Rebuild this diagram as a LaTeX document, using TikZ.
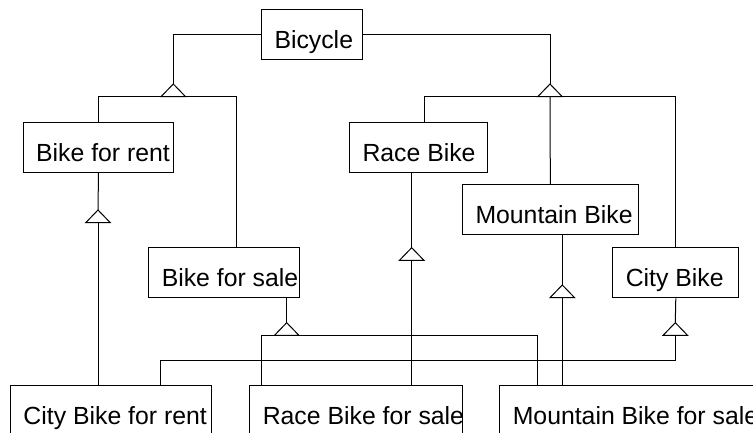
\documentclass[tikz,border=0pt]{standalone}
\usepackage{fontspec}
\setmainfont{Liberation Sans}
\newcommand{\clsname}[2]{\makebox[#1pt][l]{\hspace{13pt}#2}}
\begin{document}
\begin{tikzpicture}[x=1pt,y=-1pt,line width=1pt,
    cls/.style={draw,anchor=north west,minimum height=50pt,inner sep=0pt,
      text height=30pt,text depth=2pt,font=\fontsize{24.8pt}{30pt}\selectfont},
    inh/.pic={
      \draw[fill=white] (0,0) coordinate (-apex) -- (-12.3,12.7) -- (12.3,12.7) -- cycle;
      \coordinate (-base) at (0,12.7);
    }]
        \useasboundingbox (0,0) rectangle (753,432);
        \clip (0,0) rectangle (753,432);

        % classes
        \node[cls] (bicycle) at (261,9) {\clsname{101}{Bicycle}};
        \node[cls] (bikerent) at (22.7,121.7) {\clsname{150.6}{Bike for rent}};
        \node[cls] (race) at (349,121.7) {\clsname{138.3}{Race Bike}};
        \node[cls] (mountain) at (462,184.3) {\clsname{175.7}{Mountain Bike}};
        \node[cls] (bikesale) at (148.3,247.3) {\clsname{150.7}{Bike for sale}};
        \node[cls] (city) at (612.3,247.3) {\clsname{126}{City Bike}};
        \node[cls] (cityrent) at (10,385) {\clsname{201}{City Bike for rent}};
        \node[cls] (racesale) at (249.3,385) {\clsname{213}{Race Bike for sale}};
        \node[cls] (mountainsale) at (499.3,385) {\clsname{260}{Mountain Bike for sale}};

        % inheritance triangles
        \pic (tuse) at (173.3,84) {inh};
        \pic (ttype) at (550,84) {inh};
        \pic (trent) at (98,210) {inh};
        \pic (trace) at (411.7,247.7) {inh};
        \pic (tmount) at (562.3,285) {inh};
        \pic (tsale) at (286.7,322.7) {inh};
        \pic (tcity) at (675.3,322.7) {inh};

        % Bicycle
        \draw (bicycle.west) -| (tuse-apex);
        \draw (bicycle.east) -| (ttype-apex);
        \draw (bikerent.north) |- (tuse-base) -| ([xshift=88.4pt]bikesale.north west);
        \draw ([xshift=75.3pt]race.north west) |- (ttype-base) -| (city.north);
        \draw (ttype-base) -- (mountain.north);

        % Bike for rent
        \draw (bikerent.south) -- (trent-apex);
        \draw (trent-base) -- (cityrent.north -| trent-base);

        % Race Bike
        \draw (race.south -| trace-apex) -- (trace-apex);
        \draw (trace-base) -- (racesale.north -| trace-base);

        % Mountain Bike
        \draw (mountain.south -| tmount-apex) -- (tmount-apex);
        \draw (tmount-base) -- (mountainsale.north -| tmount-base);

        % Bike for sale
        \draw (bikesale.south -| tsale-apex) -- (tsale-apex);
        \draw ([xshift=11.7pt]racesale.north west) |- (tsale-base) -| ([xshift=38pt]mountainsale.north west);

        % City Bike
        \draw (city.south) -- (tcity-apex);
        \draw (tcity-base) -- ++(0,25.3) -| ([xshift=150.7pt]cityrent.north west);
\end{tikzpicture}
\end{document}
